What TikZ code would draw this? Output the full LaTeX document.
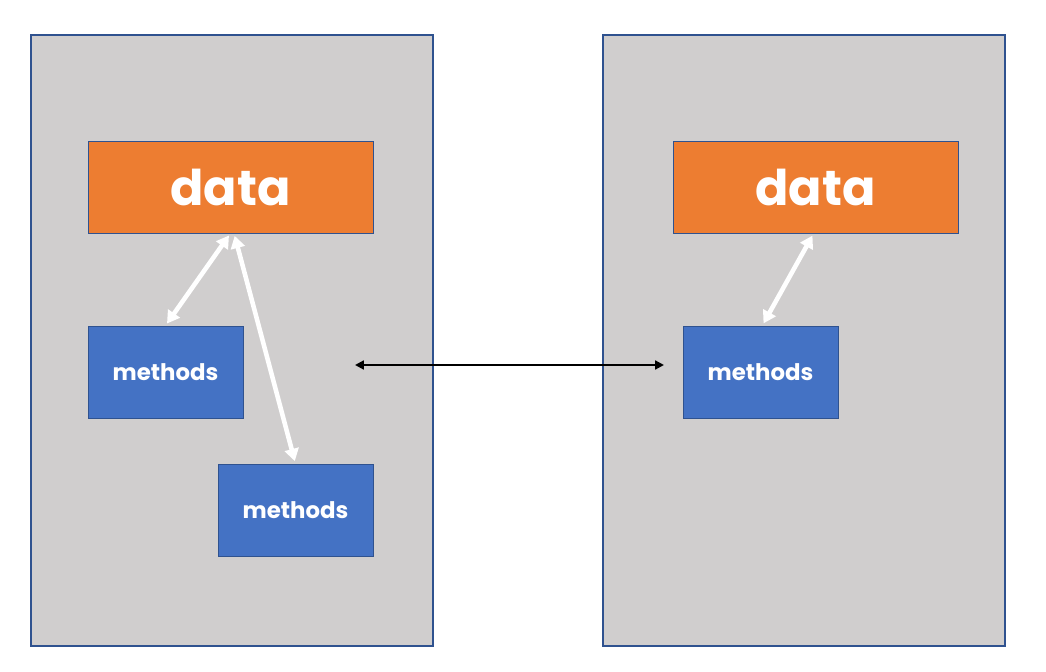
\documentclass[tikz,border=0pt]{standalone}
\usepackage{fontspec}
\setmainfont{Poppins}
\usetikzlibrary{arrows.meta}
\definecolor{panelgray}{HTML}{D0CECE}
\definecolor{edgeblue}{HTML}{2F528F}
\definecolor{dataorange}{HTML}{ED7D31}
\definecolor{methblue}{HTML}{4472C4}
\begin{document}
\begin{tikzpicture}[x=0.02cm,y=-0.02cm,
	panel/.style={draw=edgeblue,fill=panelgray,line width=0.6pt},
	databox/.style={draw=edgeblue,fill=dataorange,minimum width=5.7cm,minimum height=1.84cm,
		text=white,font=\fontsize{28}{28}\selectfont\bfseries,inner sep=0},
	methbox/.style={draw=edgeblue,fill=methblue,minimum width=3.1cm,minimum height=1.84cm,
		text=white,font=\fontsize{13}{13}\selectfont\bfseries,inner sep=0},
	link/.style={white,line width=2.6pt,{Triangle[width=8pt,length=7pt]}-{Triangle[width=8pt,length=7pt]},shorten <=1.5pt,shorten >=1.5pt}]
\useasboundingbox (0,0) rectangle (1046,672);
\fill[white] (0,0) rectangle (1046,672);
% two panels
\draw[panel] (31,35) rectangle (433,646);
\draw[panel] (603,35) rectangle (1005,646);
% left panel
\node[databox] (ldata) at (230.5,187) {data};
\node[methbox] (lmeth) at (165.5,372) {methods};
\node[methbox] (lmethb) at (295.5,510) {methods};
\draw[link] (ldata.south) -- (lmeth.north);
\draw[link] ([xshift=2pt]ldata.south) -- (lmethb.north);
% right panel
\node[databox] (rdata) at (815.5,187) {data};
\node[methbox] (rmeth) at (760.5,372) {methods};
\draw[link] ([xshift=-1pt]rdata.south) -- ([xshift=1pt]rmeth.north);
% between the panels
\coordinate (lend) at (355,365);
\coordinate (rend) at (664,365);
\draw[line width=1.2pt,{Triangle[width=5pt,length=5pt]}-{Triangle[width=5pt,length=5pt]}] (lend) -- (rend);
\end{tikzpicture}
\end{document}
